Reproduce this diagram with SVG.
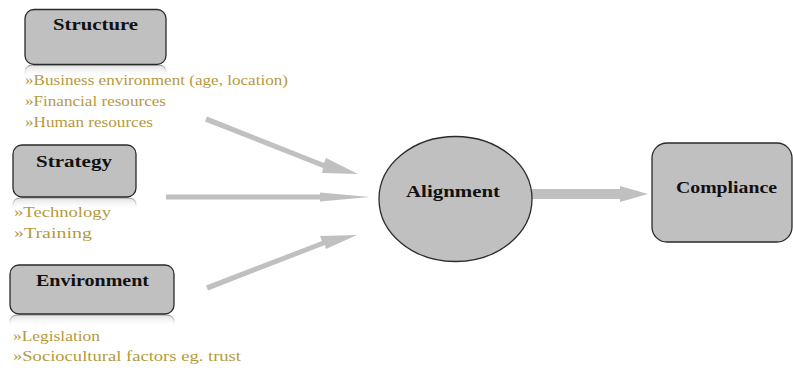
<svg xmlns="http://www.w3.org/2000/svg" width="793" height="368" viewBox="0 0 793 368">
<style>
.box{fill:#c0c0c0;stroke:#2a2a2a;stroke-width:1.3}
.title{font-weight:bold;font-size:17px;fill:#111;text-anchor:middle}
.item{font-size:15px;fill:#b59a3c}
.arr{fill:#c0c0c0}
.refl{fill:url(#rg);stroke:url(#rs);stroke-width:1.2}
</style>
<defs>
<linearGradient id="rg" x1="0" y1="0" x2="0" y2="1">
<stop offset="0" stop-color="#d8d8d8" stop-opacity="0.8"/>
<stop offset="1" stop-color="#ffffff" stop-opacity="0"/>
</linearGradient>
<linearGradient id="rs" x1="0" y1="0" x2="0" y2="1">
<stop offset="0" stop-color="#888" stop-opacity="0.9"/>
<stop offset="1" stop-color="#fff" stop-opacity="0"/>
</linearGradient>
</defs>
<g id="connectors">
<polygon class="arr" points="207,116.5 324,163 326,158 358,174 322,173 323,168 205,121.5"/>
<polygon class="arr" points="166,194.5 320,194.5 320,192.5 370,197 320,201.5 320,199.5 166,199.5"/>
<polygon class="arr" points="206,285.5 322,241 320,236 357,235 326,249 325,245 208,290.5"/>
<polygon class="arr" points="532,189 620,189 620,186 648,194 620,202 620,199 532,199"/>
</g>
<g font-family="Liberation Serif, DejaVu Serif, serif">
<g id="structure">
<path class="refl" d="M25,78 L25,73 Q25,65 33,65 L158,65 Q166,65 166,73 L166,78 Z"/>
<rect class="box" x="25" y="9.5" width="141" height="55" rx="9"/>
<text class="title" x="95.5" y="30" textLength="85" lengthAdjust="spacingAndGlyphs">Structure</text>
<text class="item" x="25" y="85" textLength="263" lengthAdjust="spacingAndGlyphs">»Business  environment (age, location)</text>
<text class="item" x="25" y="106" textLength="141" lengthAdjust="spacingAndGlyphs">»Financial resources</text>
<text class="item" x="25" y="127" textLength="128" lengthAdjust="spacingAndGlyphs">»Human resources</text>
</g>
<g id="strategy">
<path class="refl" d="M13,210 L13,205 Q13,198 21,198 L128,198 Q136,198 136,205 L136,210 Z"/>
<rect class="box" x="13" y="145" width="123" height="52" rx="9"/>
<text class="title" x="74" y="167" textLength="76" lengthAdjust="spacingAndGlyphs">Strategy</text>
<text class="item" x="14" y="217" textLength="97" lengthAdjust="spacingAndGlyphs">»Technology</text>
<text class="item" x="14" y="238" textLength="78" lengthAdjust="spacingAndGlyphs">»Training</text>
</g>
<g id="environment">
<path class="refl" d="M10,327 L10,322 Q10,315 18,315 L166,315 Q174,315 174,322 L174,327 Z"/>
<rect class="box" x="10" y="265" width="164" height="49" rx="9"/>
<text class="title" x="92.5" y="286" textLength="113" lengthAdjust="spacingAndGlyphs">Environment</text>
<text class="item" x="13" y="341" textLength="87" lengthAdjust="spacingAndGlyphs">»Legislation</text>
<text class="item" x="13" y="361" textLength="228" lengthAdjust="spacingAndGlyphs">»Sociocultural factors eg. trust</text>
</g>
<g id="alignment">
<ellipse class="box" cx="455.5" cy="199" rx="76.5" ry="62.5"/>
<text class="title" x="453" y="197" textLength="94" lengthAdjust="spacingAndGlyphs">Alignment</text>
</g>
<g id="compliance">
<rect class="box" x="652" y="143" width="140" height="99" rx="15"/>
<text class="title" x="726.5" y="193" textLength="101" lengthAdjust="spacingAndGlyphs">Compliance</text>
</g>
</g>
</svg>
